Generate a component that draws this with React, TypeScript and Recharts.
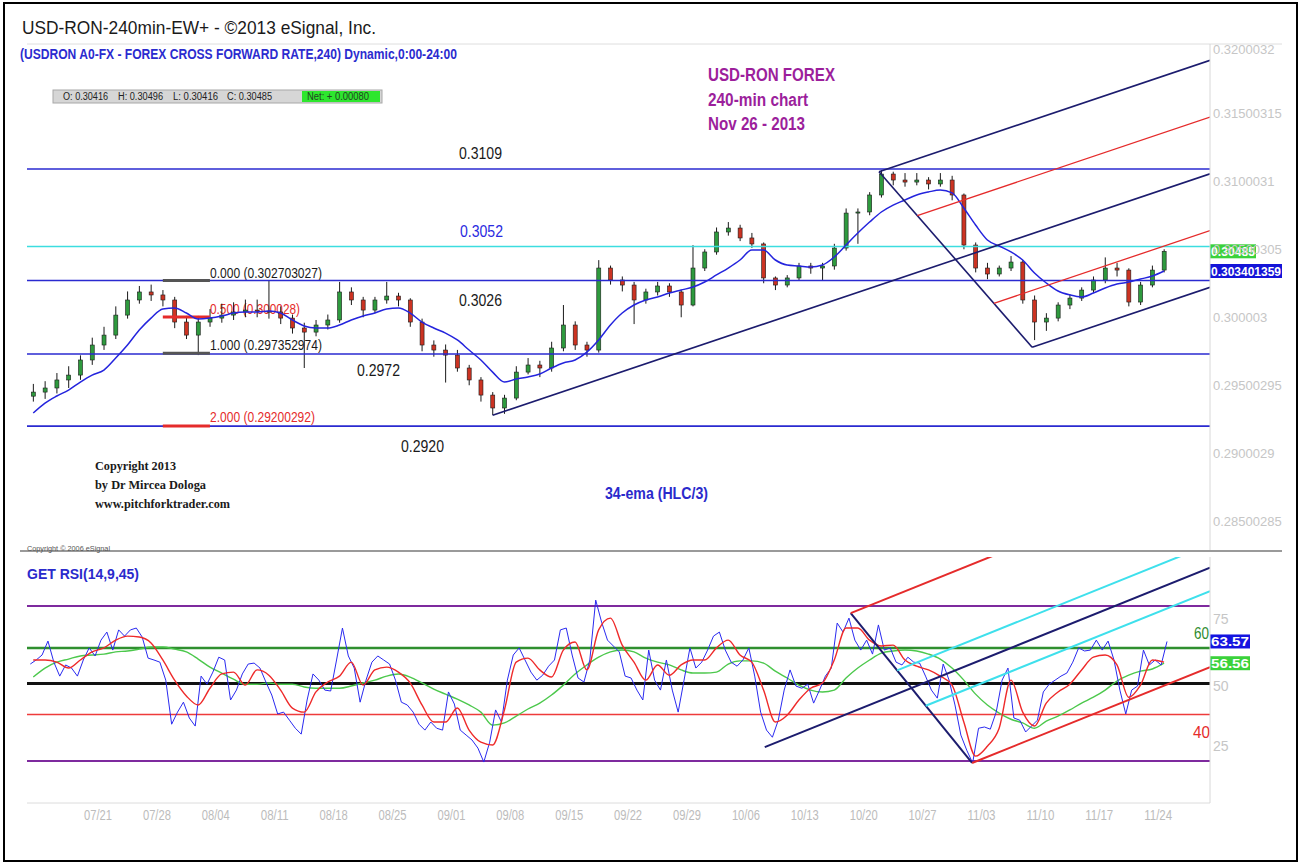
import React from "react";
import { ComposedChart, Bar, Line, XAxis, YAxis, ReferenceLine } from "recharts";

const SANS = "'Liberation Sans', Arial, sans-serif";
const SERIF = "'Liberation Serif', 'Times New Roman', serif";

// x = trading day index, 5 per week, 0 = Mon 07/22 (week label 07/21)
const weekLabels = ["07/21", "07/28", "08/04", "08/11", "08/18", "08/25", "09/01", "09/08", "09/15", "09/22", "09/29", "10/06", "10/13", "10/20", "10/27", "11/03", "11/10", "11/17", "11/24"];
const weekTicks = weekLabels.map((_, i) => i * 5);
const firstDay = -6; // Fri 07/12
const xDomain: [number, number] = [-6.03, 94.4];

// daily OHLC, 07/12 .. 11/25
const opens = [
  0.2942, 0.2945, 0.2948, 0.29539, 0.29575, 0.29686,
  0.29796, 0.29869, 0.30016, 0.30127, 0.30186, 0.30164, 0.30127, 0.29965, 0.29869, 0.29965,
  0.29994, 0.30016, 0.30039, 0.30053, 0.30045, 0.30039, 0.29994, 0.29921, 0.29891, 0.29943,
  0.2998, 0.30186, 0.30127, 0.30053, 0.30127, 0.30156, 0.30127, 0.29965, 0.29796, 0.29759,
  0.29722, 0.29627, 0.29539, 0.29428, 0.29333, 0.29406, 0.29597, 0.29649, 0.29627, 0.29774,
  0.29943, 0.29796, 0.29759, 0.30362, 0.30274, 0.30237, 0.30127, 0.30186, 0.3023, 0.30186,
  0.3009, 0.30362, 0.3048, 0.30627, 0.30656, 0.30583, 0.30539, 0.30289, 0.30237, 0.30289,
  0.30377, 0.30362, 0.30377, 0.30509, 0.30766, 0.30774, 0.30899, 0.31053, 0.31009, 0.30994,
  0.31009, 0.3098, 0.31009, 0.30899, 0.30531, 0.30362, 0.30318, 0.30362, 0.30406, 0.30127,
  0.29965, 0.29994, 0.3009, 0.30141, 0.302, 0.30274, 0.30362, 0.30347, 0.30112, 0.30237, 0.30347,
];
const highs = [
  0.2951, 0.2953, 0.2959, 0.2964, 0.2972, 0.2985,
  0.2993, 0.3008, 0.3019, 0.3023, 0.3024, 0.302, 0.3015, 0.3001, 0.3001, 0.3006,
  0.301, 0.3011, 0.3013, 0.3013, 0.3027, 0.3008, 0.3002, 0.2996, 0.2998, 0.3002,
  0.3026, 0.3022, 0.3015, 0.3015, 0.3026, 0.3018, 0.3014, 0.2999, 0.2983, 0.298,
  0.2976, 0.2965, 0.2956, 0.2945, 0.2943, 0.2964, 0.297, 0.2968, 0.2982, 0.3009,
  0.2997, 0.2982, 0.3042, 0.3038, 0.303, 0.3026, 0.3021, 0.3026, 0.3025, 0.302,
  0.3053, 0.305, 0.3066, 0.307, 0.3068, 0.3062, 0.3055, 0.303, 0.3031, 0.304,
  0.304, 0.304, 0.3054, 0.308, 0.308, 0.3092, 0.31083, 0.3107, 0.3106, 0.3106,
  0.3103, 0.3106, 0.3104, 0.3091, 0.3055, 0.304, 0.3038, 0.3045, 0.3042, 0.3016,
  0.3003, 0.3011, 0.3017, 0.3022, 0.303, 0.3044, 0.304, 0.3036, 0.3026, 0.3038, 0.305,
];
const lows = [
  0.2938, 0.294, 0.2944, 0.2948, 0.2954, 0.2965,
  0.2976, 0.2984, 0.2999, 0.301, 0.3012, 0.3008, 0.2992, 0.2984, 0.29722, 0.2993,
  0.2996, 0.2998, 0.3, 0.3, 0.2999, 0.2995, 0.2988, 0.29627, 0.2986, 0.2991,
  0.2996, 0.3009, 0.3, 0.3003, 0.301, 0.3008, 0.2993, 0.2975, 0.2971, 0.2952,
  0.296, 0.295, 0.2938, 0.29281, 0.2929, 0.2939, 0.2958, 0.2956, 0.296, 0.2975,
  0.2976, 0.2971, 0.2974, 0.3024, 0.3019, 0.2995, 0.301, 0.3016, 0.3015, 0.3,
  0.3008, 0.3034, 0.3046, 0.306, 0.3056, 0.3051, 0.3025, 0.302, 0.3022, 0.3027,
  0.3032, 0.3027, 0.3035, 0.3049, 0.3054, 0.3075, 0.3088, 0.3097, 0.3096, 0.3097,
  0.3094, 0.3096, 0.3086, 0.305, 0.3033, 0.3028, 0.303, 0.3034, 0.301, 0.29832,
  0.299, 0.2997, 0.3006, 0.3012, 0.3018, 0.3025, 0.303, 0.3008, 0.3009, 0.3022, 0.3033,
];
const closes = [
  0.2945, 0.2948, 0.29539, 0.29575, 0.29686, 0.29796,
  0.29869, 0.30016, 0.30127, 0.30186, 0.30164, 0.30127, 0.29965, 0.29869, 0.29965, 0.29994,
  0.30016, 0.30039, 0.30053, 0.30045, 0.30039, 0.29994, 0.29921, 0.29891, 0.29943, 0.2998,
  0.30186, 0.30127, 0.30053, 0.30127, 0.30156, 0.30127, 0.29965, 0.29796, 0.29759, 0.29722,
  0.29627, 0.29539, 0.29428, 0.29333, 0.29406, 0.29597, 0.29649, 0.29627, 0.29774, 0.29943,
  0.29796, 0.29759, 0.30362, 0.30274, 0.30237, 0.30127, 0.30186, 0.3023, 0.30186, 0.3009,
  0.30362, 0.3048, 0.30627, 0.30656, 0.30583, 0.30539, 0.30289, 0.30237, 0.30289, 0.30377,
  0.30362, 0.30377, 0.30509, 0.30766, 0.30774, 0.30899, 0.31053, 0.31009, 0.30994, 0.31009,
  0.3098, 0.31009, 0.30899, 0.30531, 0.30362, 0.30318, 0.30362, 0.30406, 0.30127, 0.29965,
  0.29994, 0.3009, 0.30141, 0.302, 0.30274, 0.30362, 0.30347, 0.30112, 0.30237, 0.30347, 0.30485,
];
// 34-ema (HLC/3)
const ema34 = [
  0.29296, 0.29369, 0.29421, 0.29465, 0.29524, 0.29575,
  0.29612, 0.297, 0.29796, 0.29906, 0.29994, 0.30061, 0.30068, 0.30031, 0.29987, 0.29994,
  0.30009, 0.30031, 0.30039, 0.30039, 0.30046, 0.30031, 0.2998, 0.29936, 0.29921, 0.29921,
  0.29943, 0.2998, 0.30009, 0.30031, 0.30061, 0.30068, 0.30031, 0.29965, 0.29921, 0.29884,
  0.29833, 0.29759, 0.29686, 0.29597, 0.29524, 0.29546, 0.29561, 0.29583, 0.29627, 0.29664,
  0.29686, 0.29744, 0.29833, 0.29943, 0.30031, 0.3009, 0.30127, 0.30149, 0.30178, 0.302,
  0.30222, 0.30259, 0.30311, 0.30362, 0.30421, 0.30494, 0.30494, 0.30421, 0.30384, 0.30377,
  0.30369, 0.30384, 0.30443, 0.30531, 0.30619, 0.307, 0.30774, 0.30825, 0.30862, 0.30899,
  0.30921, 0.30936, 0.30914, 0.30803, 0.30678, 0.30568, 0.30524, 0.3048, 0.30421, 0.30325,
  0.30252, 0.30193, 0.30164, 0.30149, 0.30178, 0.30215, 0.30244, 0.30259, 0.30281, 0.30303, 0.303401359,
];

// RSI(14), two readings per day
const rsi14 = [
  56.3, 57.6, 59.2, 63.7, 56.9, 52.4, 56.0, 55.0, 52.4, 57.6,
  61.5, 58.9, 64.0, 66.6, 60.8, 67.3, 65.3, 67.3, 67.9, 65.0,
  58.2, 57.6, 56.9, 51.1, 36.9, 40.8, 44.0, 38.9, 36.3, 52.4,
  49.8, 53.7, 58.5, 57.6, 44.7, 47.9, 53.1, 56.3, 56.6, 55.0,
  50.5, 46.3, 40.2, 40.8, 38.2, 35.6, 33.7, 44.7, 53.1, 51.1,
  47.9, 47.6, 57.6, 67.9, 58.9, 55.0, 44.0, 51.1, 56.9, 58.9,
  57.6, 56.3, 51.1, 44.0, 43.1, 40.8, 36.9, 35.0, 37.6, 35.6,
  35.0, 47.3, 43.4, 35.0, 33.4, 31.8, 29.2, 24.7, 31.1, 41.5,
  37.6, 51.1, 59.2, 61.5, 57.6, 53.7, 51.1, 52.7, 55.6, 57.6,
  67.3, 67.9, 59.2, 51.8, 50.5, 57.6, 76.9, 69.8, 64.0, 62.1,
  60.2, 52.4, 51.8, 47.9, 44.7, 60.8, 51.1, 47.9, 57.6, 47.9,
  40.8, 51.1, 61.5, 55.0, 56.9, 60.8, 65.3, 66.6, 60.8, 56.9,
  55.6, 57.6, 61.5, 52.4, 40.8, 35.0, 32.7, 38.2, 47.9, 54.4,
  49.2, 48.5, 49.8, 43.7, 47.9, 52.4, 55.0, 69.5, 66.6, 71.1,
  64.0, 60.8, 64.0, 59.5, 68.9, 60.8, 61.5, 56.9, 56.0, 58.5,
  56.9, 56.6, 52.4, 47.9, 45.3, 56.3, 51.1, 43.1, 33.4, 28.5,
  24.4, 35.6, 36.0, 35.3, 40.8, 51.1, 55.0, 38.9, 38.2, 34.4,
  36.3, 38.2, 47.3, 49.8, 51.1, 52.4, 53.4, 56.9, 61.5, 60.5,
  60.8, 64.0, 60.8, 63.7, 57.6, 47.9, 40.2, 47.9, 49.2, 60.8,
  56.0, 57.6, 56.0, 63.57,
];
// signal (9) and slow (45) lines, daily
const rsiSignal = [
  57.6, 57.6, 56.9, 55.0, 57.6, 60.2,
  61.5, 64.0, 65.3, 65.0, 63.1, 57.6, 51.1, 46.0, 43.1, 48.5,
  53.1, 53.7, 49.5, 54.4, 52.7, 47.9, 42.1, 40.8, 47.3, 50.5,
  52.4, 56.9, 49.5, 54.4, 55.3, 53.7, 50.2, 43.1, 37.6, 37.6,
  42.1, 35.0, 31.1, 30.2, 41.5, 56.9, 58.2, 54.4, 52.1, 60.8,
  63.4, 54.4, 67.3, 71.1, 62.4, 56.9, 51.1, 56.0, 52.7, 56.0,
  57.6, 57.6, 61.5, 64.0, 59.2, 56.9, 47.9, 37.6, 39.8, 44.7,
  48.5, 50.2, 57.6, 67.9, 67.9, 64.0, 62.1, 62.4, 57.6, 55.6,
  54.4, 52.4, 49.5, 37.6, 26.6, 29.8, 35.6, 51.1, 40.8, 36.3,
  43.7, 47.3, 49.8, 54.4, 58.5, 59.2, 56.0, 45.6, 49.5, 57.6, 56.9,
];
const rsiSlow = [
  52.1, 55.0, 56.9, 57.9, 58.9, 59.2,
  59.5, 60.2, 60.5, 61.1, 61.8, 61.8, 61.1, 60.2, 57.9, 55.3,
  53.4, 51.4, 49.8, 49.8, 50.2, 49.8, 49.8, 48.9, 48.5, 48.5,
  48.5, 49.2, 50.2, 51.1, 52.4, 53.1, 52.1, 50.2, 48.2, 46.6,
  45.0, 43.1, 40.8, 36.6, 37.3, 39.5, 41.8, 43.7, 46.3, 49.5,
  53.1, 56.0, 58.5, 60.2, 60.8, 60.2, 58.2, 56.9, 56.0, 54.4,
  53.4, 53.4, 53.7, 56.3, 57.3, 57.3, 56.6, 54.0, 51.8, 49.5,
  47.9, 47.3, 47.9, 51.8, 55.0, 57.6, 59.8, 60.5, 60.8, 60.5,
  59.5, 57.9, 55.0, 51.1, 46.6, 43.1, 40.5, 38.5, 37.3, 35.6,
  37.9, 39.5, 41.5, 43.7, 45.6, 47.9, 50.8, 52.7, 54.0, 54.7, 56.56,
];

const priceTicks = [0.28500285, 0.2900029, 0.29500295, 0.300003, 0.30500305, 0.3100031, 0.31500315, 0.3200032];
const priceDomain: [number, number] = [0.28289, 0.32009];
const levelPrices = [0.3109, 0.3052, 0.3027, 0.2973, 0.292];
const fibPrices = [0.302703027, 0.300028, 0.297352974, 0.29200292];
const fibSpan = [5.5, 9.5];

// pitchfork pivots (low, high, low)
const forkX = [33.5, 66.3, 79.3];
const forkPrice = [0.2928, 0.3107, 0.2978];
const rsiForkX = [56.6, 63.9, 74.2];
const rsiForkVal = [29.5, 72.7, 24.4];

const rsiTicks = [25, 50, 75];
const rsiDomain: [number, number] = [11.5, 90.8];
const rsiLevels = [75, 61.5, 50, 40, 25];

const candleRows = closes.map((c, i) => ({
  x: firstDay + i + 0.5,
  open: opens[i],
  high: highs[i],
  low: lows[i],
  close: c,
  ema: ema34[i],
}));

const rsiRows: any[] = [
  ...rsi14.map((v, k) => ({ x: firstDay + 0.25 + k * 0.5, rsi: v })),
  ...rsiSignal.map((v, i) => ({ x: firstDay + 0.5 + i, signal: v, slow: rsiSlow[i] })),
].sort((a, b) => a.x - b.x);

type Pt = { x: number; y: number };
function pitchfork(xs: number[], ys: number[], xEnd: number, warn: number[]) {
  const [a, b, c] = xs.map((x, i) => ({ x, y: ys[i] }));
  const mid = { x: (b.x + c.x) / 2, y: (b.y + c.y) / 2 };
  const slope = (mid.y - a.y) / (mid.x - a.x);
  const ray = (p: Pt): Pt[] => [p, { x: xEnd, y: p.y + slope * (xEnd - p.x) }];
  return {
    median: ray(a),
    upper: ray(b),
    lower: ray(c),
    handle: [b, c],
    warn: warn.map((t) => ray({ x: b.x + t * (c.x - b.x), y: b.y + t * (c.y - b.y) })),
  };
}

const priceFork = pitchfork(forkX, forkPrice, xDomain[1], [0.25, 0.75]);
const rsiFork = pitchfork(rsiForkX, rsiForkVal, xDomain[1], [0.382, 0.618]);

function Candle(props: any) {
  const { x, y, width, height, payload } = props;
  if (!payload || width == null || y == null) return null;
  const top = Math.min(y, y + height);
  const h = Math.abs(height);
  const span = payload.high - payload.low;
  const py = (v: number) => top + (span > 0 ? ((payload.high - v) / span) * h : 0);
  const cx = x + width / 2;
  const up = payload.close >= payload.open;
  const b1 = py(Math.max(payload.open, payload.close));
  const b2 = py(Math.min(payload.open, payload.close));
  return (
    <g>
      <line x1={cx} x2={cx} y1={top} y2={top + h} stroke="#1a1a1a" strokeWidth={1} />
      <rect x={x} y={b1} width={width} height={Math.max(1, b2 - b1)} fill={up ? "#2e9a3e" : "#cc3322"} stroke="#1a1a1a" strokeWidth={0.6} />
    </g>
  );
}

function PriceTick({ x, y, payload }: any) {
  return (
    <text x={x + 3} y={Math.max(y, 49) + 5} fill="#c6c6c6" fontSize={13} fontFamily={SANS}>
      {payload.value}
    </text>
  );
}

function RsiTick({ x, y, payload }: any) {
  const v = payload.value;
  const dy = v >= 75 ? 18 : v <= 25 ? -10 : 7;
  return (
    <text x={x + 3} y={y + dy} fill="#c6c6c6" fontSize={14} fontFamily={SANS}>
      {v}
    </text>
  );
}

function DateTick({ x, y, payload }: any) {
  return (
    <text x={x} y={y + 17} textAnchor="middle" fill="#bcbcbc" fontSize={14} fontFamily={SANS} textLength={28} lengthAdjust="spacingAndGlyphs">
      {weekLabels[Math.round(payload.value / 5)]}
    </text>
  );
}

function Tag({ viewBox, text, bg, w }: any) {
  if (!viewBox) return null;
  const x = viewBox.x + viewBox.width;
  const y = viewBox.y;
  return (
    <g>
      <rect x={x} y={y - 7} width={w} height={14} fill={bg} />
      <text x={x + 1} y={y + 5} fill="#ffffff" fontSize={13} fontWeight="bold" fontFamily={SANS} textLength={w - 2} lengthAdjust="spacingAndGlyphs">
        {text}
      </text>
    </g>
  );
}

function Note({ x, y, w, size, color = "#1a1a1a", bold, serif, children }: any) {
  return (
    <text x={x} y={y + size * 0.36} fontSize={size} fill={color} fontWeight={bold ? "bold" : "normal"} fontFamily={serif ? SERIF : SANS} textLength={w} lengthAdjust="spacingAndGlyphs">
      {children}
    </text>
  );
}

const NAVY = "#1c1c6e";
const RED = "#e52b2b";

export default function App() {
  const lastClose = closes[closes.length - 1];
  const lastEma = ema34[ema34.length - 1];
  return (
    <div style={{ position: "absolute", left: 0, top: 0, width: 1302, height: 865, background: "#fff", overflow: "hidden" }}>
      <svg width={1302} height={865} style={{ position: "absolute", left: 0, top: 0 }}>
        <rect x={4} y={3} width={1293} height={858} fill="none" stroke="#000" strokeWidth={2} />
        <line x1={27} x2={1282} y1={44} y2={44} stroke="#dedede" />
        <line x1={20} x2={1282} y1={551} y2={551} stroke="#9a9a9a" strokeWidth={2} />
        <Note x={22} y={27} w={354} size={19}>USD-RON-240min-EW+ - ©2013 eSignal, Inc.</Note>
        <Note x={20} y={54} w={437} size={14} bold color="#2b2bcf">(USDRON A0-FX - FOREX CROSS FORWARD RATE,240) Dynamic,0:00-24:00</Note>
        <rect x={53} y={90} width={329} height={13} fill="#d6d6d6" stroke="#a8a8a8" />
        <rect x={302} y={91} width={78} height={11} fill="#2ee62e" />
        <Note x={63} y={96.5} w={45} size={10} color="#222">O: 0.30416</Note>
        <Note x={118} y={96.5} w={45} size={10} color="#222">H: 0.30496</Note>
        <Note x={173} y={96.5} w={45} size={10} color="#222">L: 0.30416</Note>
        <Note x={227} y={96.5} w={45} size={10} color="#222">C: 0.30485</Note>
        <Note x={307} y={96.5} w={62} size={10} color="#224422">Net: + 0.00080</Note>
        <Note x={708} y={75} w={127} size={18} bold color="#9c1f9c">USD-RON FOREX</Note>
        <Note x={708} y={100} w={100} size={18} bold color="#9c1f9c">240-min chart</Note>
        <Note x={708} y={124} w={97} size={18} bold color="#9c1f9c">Nov 26 - 2013</Note>
        <Note x={459} y={153} w={43} size={17}>0.3109</Note>
        <Note x={460} y={231} w={43} size={17} color="#2a2ae0">0.3052</Note>
        <Note x={459} y={299.5} w={43} size={17}>0.3026</Note>
        <Note x={357} y={370} w={43} size={17}>0.2972</Note>
        <Note x={401} y={446} w={43} size={17}>0.2920</Note>
        <Note x={210} y={272.5} w={112} size={15}>0.000 (0.302703027)</Note>
        <Note x={210} y={309} w={90} size={15} color={RED}>0.500 (0.300028)</Note>
        <Note x={210} y={345} w={112} size={15}>1.000 (0.297352974)</Note>
        <Note x={210} y={417} w={105} size={15} color={RED}>2.000 (0.29200292)</Note>
        <Note x={95} y={465} w={81} size={13} bold serif>Copyright 2013</Note>
        <Note x={95} y={484} w={111} size={13} bold serif>by Dr Mircea Dologa</Note>
        <Note x={95} y={503} w={135} size={13} bold serif>www.pitchforktrader.com</Note>
        <Note x={605} y={493} w={103} size={16} bold color="#2a2acc">34-ema (HLC/3)</Note>
        <Note x={27} y={548} w={83} size={7} color="#555">Copyright © 2006 eSignal</Note>
        <Note x={27} y={574} w={112} size={14} bold color="#2a2acc">GET RSI(14,9,45)</Note>
        <Note x={1194} y={633} w={15} size={17} color="#2e8b2e">60</Note>
        <Note x={1193} y={732} w={17} size={17} color={RED}>40</Note>
      </svg>

      <div style={{ position: "absolute", left: 0, top: 0 }}>
        <ComposedChart width={1302} height={560} data={candleRows} margin={{ top: 44, right: 12, bottom: 10, left: 27 }}>
          <XAxis type="number" dataKey="x" domain={xDomain} allowDataOverflow hide />
          <YAxis
            orientation="right"
            type="number"
            domain={priceDomain}
            allowDataOverflow
            ticks={priceTicks}
            interval={0}
            tick={<PriceTick />}
            tickLine={false}
            tickSize={0}
            tickMargin={0}
            axisLine={{ stroke: "#d8d8d8" }}
            width={80}
          />
          {levelPrices.map((p, i) => (
            <ReferenceLine key={"lv" + i} y={p} stroke={i === 1 ? "#3cdde0" : "#2a2ad0"} strokeWidth={1.6} />
          ))}
          {fibPrices.map((p, i) => (
            <ReferenceLine
              key={"fib" + i}
              segment={[{ x: fibSpan[0], y: p }, { x: fibSpan[1], y: p }]}
              stroke={i % 2 === 1 ? RED : "#555"}
              strokeWidth={3}
            />
          ))}
          <Bar dataKey={(d: any) => [d.low, d.high]} barSize={4} shape={(p: any) => <Candle {...p} />} isAnimationActive={false} />
          <Line dataKey="ema" type="monotone" stroke="#2424dd" strokeWidth={1.5} dot={false} isAnimationActive={false} />
          <ReferenceLine segment={priceFork.median} stroke={NAVY} strokeWidth={1.6} ifOverflow="hidden" />
          <ReferenceLine segment={priceFork.upper} stroke={NAVY} strokeWidth={1.6} ifOverflow="hidden" />
          <ReferenceLine segment={priceFork.lower} stroke={NAVY} strokeWidth={1.6} ifOverflow="hidden" />
          <ReferenceLine segment={priceFork.handle} stroke={NAVY} strokeWidth={1.6} ifOverflow="hidden" />
          {priceFork.warn.map((s, i) => (
            <ReferenceLine key={"pw" + i} segment={s} stroke={RED} strokeWidth={1.3} ifOverflow="hidden" />
          ))}
          <ReferenceLine y={lastClose} stroke="none" ifOverflow="visible" label={<Tag text={String(lastClose)} bg="#3bd23b" w={46} />} />
          <ReferenceLine y={lastEma} stroke="none" ifOverflow="visible" label={<Tag text={String(lastEma)} bg="#1414d8" w={72} />} />
        </ComposedChart>
      </div>

      <div style={{ position: "absolute", left: 0, top: 552 }}>
        <ComposedChart width={1302} height={286} data={rsiRows} margin={{ top: 5, right: 12, bottom: 5, left: 27 }}>
          <XAxis
            type="number"
            dataKey="x"
            domain={xDomain}
            allowDataOverflow
            ticks={weekTicks}
            interval={0}
            tick={<DateTick />}
            tickLine={false}
            tickSize={0}
            tickMargin={0}
            axisLine={{ stroke: "#dcdcdc" }}
            height={30}
          />
          <YAxis
            orientation="right"
            type="number"
            domain={rsiDomain}
            allowDataOverflow
            ticks={rsiTicks}
            interval={0}
            tick={<RsiTick />}
            tickLine={false}
            tickSize={0}
            tickMargin={0}
            axisLine={{ stroke: "#d8d8d8" }}
            width={80}
          />
          {rsiLevels.map((v, i) => (
            <ReferenceLine
              key={"rl" + i}
              y={v}
              stroke={["#7e2a9e", "#2f8f2f", "#111111", "#ee3b3b", "#7e2a9e"][i]}
              strokeWidth={[2, 2.5, 3, 1.5, 2][i]}
            />
          ))}
          <Line dataKey="slow" type="monotone" stroke="#4cc84c" strokeWidth={1.4} dot={false} connectNulls isAnimationActive={false} />
          <Line dataKey="rsi" type="linear" stroke="#2a2af0" strokeWidth={1} dot={false} connectNulls isAnimationActive={false} />
          <Line dataKey="signal" type="monotone" stroke="#ee2a2a" strokeWidth={1.4} dot={false} connectNulls isAnimationActive={false} />
          <ReferenceLine segment={rsiFork.median} stroke={NAVY} strokeWidth={2} ifOverflow="hidden" />
          <ReferenceLine segment={rsiFork.handle} stroke={NAVY} strokeWidth={2} ifOverflow="hidden" />
          <ReferenceLine segment={rsiFork.upper} stroke={RED} strokeWidth={2} ifOverflow="hidden" />
          <ReferenceLine segment={rsiFork.lower} stroke={RED} strokeWidth={2} ifOverflow="hidden" />
          {rsiFork.warn.map((s, i) => (
            <ReferenceLine key={"rw" + i} segment={s} stroke="#3ee0ec" strokeWidth={2} ifOverflow="hidden" />
          ))}
          <ReferenceLine y={rsi14[rsi14.length - 1]} stroke="none" ifOverflow="visible" label={<Tag text={String(rsi14[rsi14.length - 1])} bg="#1414e0" w={40} />} />
          <ReferenceLine y={rsiSlow[rsiSlow.length - 1]} stroke="none" ifOverflow="visible" label={<Tag text={String(rsiSlow[rsiSlow.length - 1])} bg="#3bd23b" w={40} />} />
        </ComposedChart>
      </div>
    </div>
  );
}
